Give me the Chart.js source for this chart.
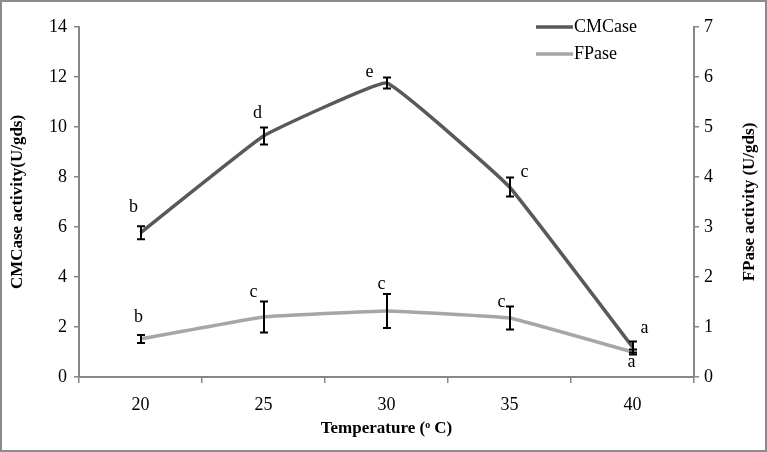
<!DOCTYPE html>
<html>
<head>
<meta charset="utf-8">
<script src="https://cdn.jsdelivr.net/npm/chart.js@4.4.0/dist/chart.umd.min.js"></script>
<style>
  html, body { margin: 0; padding: 0; background: #fff; }
  #wrap { width: 767px; height: 452px; position: relative; }
</style>
</head>
<body>
<div id="wrap"><canvas id="tempChart" width="767" height="452"></canvas></div>
<script>
// temperatures on the x axis
const temps = ['20', '25', '30', '35', '40'];

// CMCase activity (U/gds), left axis
const cmcase = [5.77, 9.64, 11.76, 7.6, 1.2];
const cmcaseErr = [0.26, 0.34, 0.22, 0.38, 0.22];
const cmcaseLetters = ['b', 'd', 'e', 'c', 'a'];

// FPase activity (U/gds), right axis
const fpase = [0.76, 1.2, 1.32, 1.18, 0.5];
const fpaseErr = [0.08, 0.31, 0.34, 0.23, 0.05];
const fpaseLetters = ['b', 'c', 'c', 'c', 'a'];

const leftTicks = [0, 2, 4, 6, 8, 10, 12, 14];
const rightTicks = [0, 1, 2, 3, 4, 5, 6, 7];

const axisGrey = '#878787';
const serif = "'Liberation Serif', 'Times New Roman', serif";

// where the significance letters sit, relative to the point (px)
const letterOffsets = [
    [[-7, -25], [-6, -23], [-17, -11], [15, -15], [12, -19]],
    [[-2, -22], [-10, -25], [-5, -27], [-8, -16], [-1, 10]]
];

const extrasPlugin = {
    id: 'extras',
    beforeDraw(chart) {
        const ctx = chart.ctx;
        ctx.save();
        ctx.strokeStyle = '#8c8c8c';
        ctx.lineWidth = 2;
        ctx.strokeRect(1, 1, chart.width - 2, chart.height - 2);
        ctx.restore();
    },
    afterDatasetsDraw(chart) {
        const ctx = chart.ctx;
        ctx.save();
        // error bars
        chart.data.datasets.forEach((ds, di) => {
            const meta = chart.getDatasetMeta(di);
            const scale = chart.scales[ds.yAxisID];
            ctx.strokeStyle = '#000';
            ctx.lineWidth = 2;
            meta.data.forEach((pt, i) => {
                const v = ds.data[i];
                const e = ds.errors[i];
                const yTop = scale.getPixelForValue(v + e);
                const yBot = scale.getPixelForValue(v - e);
                const x = Math.round(pt.x);
                ctx.beginPath();
                ctx.moveTo(x, yTop);
                ctx.lineTo(x, yBot);
                ctx.moveTo(x - 4, yTop);
                ctx.lineTo(x + 4, yTop);
                ctx.moveTo(x - 4, yBot);
                ctx.lineTo(x + 4, yBot);
                ctx.stroke();
            });
        });
        // letters
        ctx.fillStyle = '#000';
        ctx.font = '18px ' + serif;
        ctx.textAlign = 'center';
        ctx.textBaseline = 'middle';
        chart.data.datasets.forEach((ds, di) => {
            const meta = chart.getDatasetMeta(di);
            meta.data.forEach((pt, i) => {
                const off = letterOffsets[di][i];
                ctx.fillText(ds.letters[i], pt.x + off[0], pt.y + off[1]);
            });
        });
        ctx.restore();
    },
    afterDraw(chart) {
        const ctx = chart.ctx;
        ctx.save();
        // legend
        ctx.font = '18px ' + serif;
        ctx.textAlign = 'left';
        ctx.textBaseline = 'middle';
        chart.data.datasets.forEach((ds, di) => {
            const y = 27 + di * 27;
            ctx.strokeStyle = ds.borderColor;
            ctx.lineWidth = 3.5;
            ctx.beginPath();
            ctx.moveTo(536, y);
            ctx.lineTo(573, y);
            ctx.stroke();
            ctx.fillStyle = '#000';
            ctx.fillText(ds.label, 574, y);
        });
        // right axis title, reading upwards like the left one
        const area = chart.chartArea;
        ctx.font = 'bold 17px ' + serif;
        ctx.textAlign = 'center';
        ctx.translate(750, (area.top + area.bottom) / 2);
        ctx.rotate(-Math.PI / 2);
        ctx.fillText('FPase activity (U/gds)', 0, 0);
        ctx.restore();
    }
};

const ctx = document.getElementById('tempChart');
new Chart(ctx, {
    type: 'line',
    data: {
        labels: temps,
        datasets: [{
            label: 'CMCase',
            data: cmcase,
            errors: cmcaseErr,
            letters: cmcaseLetters,
            yAxisID: 'y',
            borderColor: '#595959',
            borderWidth: 3.5,
            pointRadius: 0,
            tension: 0.08,
            fill: false
        }, {
            label: 'FPase',
            data: fpase,
            errors: fpaseErr,
            letters: fpaseLetters,
            yAxisID: 'y1',
            borderColor: '#a6a6a6',
            borderWidth: 3.5,
            pointRadius: 0,
            tension: 0.08,
            fill: false
        }]
    },
    options: {
        responsive: false,
        animation: false,
        layout: { padding: { top: 27, left: 0, right: 0, bottom: 0 } },
        plugins: {
            legend: { display: false },
            tooltip: { enabled: false }
        },
        scales: {
            x: {
                offset: true,
                grid: {
                    offset: true,
                    drawOnChartArea: false,
                    drawTicks: true,
                    tickLength: 6,
                    color: axisGrey,
                    lineWidth: 1.5
                },
                border: { color: axisGrey, width: 2 },
                ticks: {
                    color: '#000',
                    padding: 11,
                    font: { family: serif, size: 18 },
                    maxRotation: 0
                },
                title: {
                    display: true,
                    text: 'Temperature (ᵒ C)',
                    color: '#000',
                    font: { family: serif, size: 17, weight: 'bold' },
                    padding: { top: 0, bottom: 13 }
                },
                afterFit: (scale) => { scale.height = 75; }
            },
            y: {
                position: 'left',
                min: 0,
                max: 14,
                afterBuildTicks: (scale) => { scale.ticks = leftTicks.map(v => ({ value: v })); },
                grid: {
                    drawOnChartArea: false,
                    drawTicks: true,
                    tickLength: 5,
                    color: axisGrey,
                    lineWidth: 1.5
                },
                border: { color: axisGrey, width: 2 },
                ticks: {
                    color: '#000',
                    padding: 7,
                    font: { family: serif, size: 18 }
                },
                title: {
                    display: true,
                    text: 'CMCase activity(U/gds)',
                    color: '#000',
                    font: { family: serif, size: 17, weight: 'bold' },
                    padding: { top: 7, bottom: 0 }
                },
                afterFit: (scale) => { scale.width = 79; }
            },
            y1: {
                position: 'right',
                min: 0,
                max: 7,
                afterBuildTicks: (scale) => { scale.ticks = rightTicks.map(v => ({ value: v })); },
                grid: {
                    drawOnChartArea: false,
                    drawTicks: true,
                    tickLength: 5,
                    color: axisGrey,
                    lineWidth: 1.5
                },
                border: { color: axisGrey, width: 2 },
                ticks: {
                    color: '#000',
                    padding: 5,
                    font: { family: serif, size: 18 }
                },
                afterFit: (scale) => { scale.width = 73; }
            }
        }
    },
    plugins: [extrasPlugin]
});
</script>
</body>
</html>
